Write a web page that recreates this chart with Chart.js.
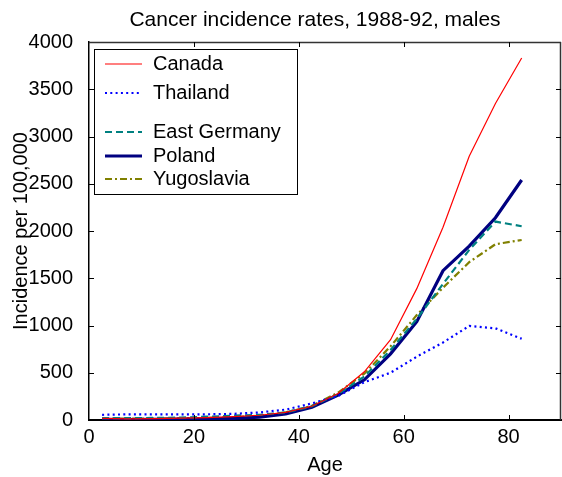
<!DOCTYPE html>
<html>
<head>
<meta charset="utf-8">
<script src="https://cdn.jsdelivr.net/npm/chart.js@4/dist/chart.umd.min.js"></script>
<style>
  html, body { margin: 0; padding: 0; background: #fff; }
  #wrap { width: 562px; height: 477px; }
</style>
</head>
<body>
<div id="wrap"><canvas id="c" width="562" height="477"></canvas></div>
<script>
// Five-year age groups (mid-points) and incidence per 100,000
const ages = [2.5, 7.5, 12.5, 17.5, 22.5, 27.5, 32.5, 37.5, 42.5, 47.5, 52.5, 57.5, 62.5, 67.5, 72.5, 77.5, 82.5];
const canada     = [18, 12, 15, 20, 25, 35, 50, 80, 145, 280, 510, 850, 1390, 2040, 2790, 3350, 3830];
const thailand   = [55, 60, 60, 60, 60, 65, 80, 110, 175, 255, 400, 500, 670, 820, 995, 970, 860];
const eastGermany= [20, 20, 22, 25, 35, 45, 55, 80, 145, 275, 460, 740, 1070, 1440, 1800, 2100, 2050];
const poland     = [8, 5, 8, 10, 12, 18, 30, 65, 135, 265, 425, 700, 1040, 1580, 1840, 2140, 2540];
const yugoslavia = [15, 14, 15, 18, 22, 30, 45, 80, 150, 290, 490, 780, 1110, 1400, 1670, 1860, 1905];

const seriesNames = ['Canada', 'Thailand', 'East Germany', 'Poland', 'Yugoslavia'];
const xTicks = [0, 20, 40, 60, 80];
const yTicks = [0, 500, 1000, 1500, 2000, 2500, 3000, 3500, 4000];
const chartTitle = 'Cancer incidence rates, 1988-92, males';

const FONT = 'Liberation Sans, Arial, Helvetica, sans-serif';

function pts(vals) { return ages.map((a, i) => ({ x: a, y: vals[i] })); }

// Title centred a little left of the plot centre, above the frame
const titlePlugin = {
  id: 'plotTitle',
  afterDraw(chart, args, opts) {
    const { ctx, chartArea: a } = chart;
    ctx.save();
    ctx.font = '21px ' + FONT;
    ctx.fillStyle = '#000';
    ctx.textAlign = 'center';
    ctx.textBaseline = 'middle';
    ctx.fillText(opts.text, (a.left + a.right) / 2 - 10, 20);
    ctx.restore();
  }
};

// Frame with inward tick marks on all four sides
const framePlugin = {
  id: 'frame',
  afterDraw(chart) {
    const { ctx, chartArea: a, scales: { x, y } } = chart;
    ctx.save();
    ctx.strokeStyle = '#333';
    ctx.lineWidth = 1.5;
    ctx.beginPath();
    ctx.moveTo(a.left, a.top + 0.5); ctx.lineTo(a.right, a.top + 0.5);
    ctx.moveTo(a.right - 0.5, a.top); ctx.lineTo(a.right - 0.5, a.bottom);
    ctx.stroke();
    ctx.strokeStyle = '#000';
    ctx.lineWidth = 1;
    const L = 5;
    ctx.beginPath();
    xTicks.forEach(v => {
      if (v === 0) return;
      const px = Math.round(x.getPixelForValue(v)) + 0.5;
      ctx.moveTo(px, a.bottom); ctx.lineTo(px, a.bottom - L);
      ctx.moveTo(px, a.top); ctx.lineTo(px, a.top + L);
    });
    yTicks.forEach(v => {
      if (v === 0 || v === 4000) return;
      const py = Math.round(y.getPixelForValue(v)) + 0.5;
      ctx.moveTo(a.left, py); ctx.lineTo(a.left + L, py);
      ctx.moveTo(a.right, py); ctx.lineTo(a.right - L, py);
    });
    ctx.stroke();
    ctx.restore();
  }
};

// Boxed legend in the upper-left corner of the plot
const boxLegend = {
  id: 'boxLegend',
  afterDraw(chart, args, opts) {
    const { ctx, chartArea: a } = chart;
    const bx = a.left + opts.dx, by = a.top + opts.dy;
    ctx.save();
    ctx.fillStyle = '#fff';
    ctx.fillRect(bx, by, opts.w, opts.h);
    ctx.strokeStyle = '#000';
    ctx.lineWidth = 1;
    ctx.strokeRect(bx + 0.5, by + 0.5, opts.w, opts.h);
    ctx.font = '20px ' + FONT;
    ctx.textBaseline = 'middle';
    ctx.fillStyle = '#000';
    chart.data.datasets.forEach((ds, i) => {
      const ry = by + opts.rows[i];
      ctx.save();
      ctx.strokeStyle = ds.borderColor;
      ctx.lineWidth = ds.borderWidth;
      ctx.setLineDash(ds.borderDash || []);
      ctx.beginPath();
      ctx.moveTo(bx + 11, ry); ctx.lineTo(bx + 48, ry);
      ctx.stroke();
      ctx.restore();
      ctx.fillText(ds.label, bx + 59, ry);
    });
    ctx.restore();
  }
};

new Chart(document.getElementById('c'), {
  type: 'line',
  data: {
    datasets: [
      { label: seriesNames[0], data: pts(canada), borderColor: '#ff0000', borderWidth: 1.2 },
      { label: seriesNames[1], data: pts(thailand), borderColor: '#0000ff', borderWidth: 2.2, borderDash: [2, 3.3] },
      { label: seriesNames[2], data: pts(eastGermany), borderColor: '#008080', borderWidth: 2.2, borderDash: [7, 4] },
      { label: seriesNames[3], data: pts(poland), borderColor: '#000080', borderWidth: 3.2 },
      { label: seriesNames[4], data: pts(yugoslavia), borderColor: '#808000', borderWidth: 2.2, borderDash: [7, 3, 2, 3] }
    ]
  },
  options: {
    responsive: false,
    animation: false,
    devicePixelRatio: 1,
    layout: { padding: { left: 0, right: 1, top: 42, bottom: 0 } },
    elements: { point: { radius: 0 }, line: { tension: 0, fill: false } },
    plugins: {
      legend: { display: false },
      tooltip: { enabled: false },
      title: { display: false },
      plotTitle: { text: chartTitle },
      boxLegend: { dx: 5, dy: 7, w: 203, h: 145, rows: [15, 44, 83, 107, 130] }
    },
    scales: {
      x: {
        type: 'linear', min: 0, max: 90,
        afterBuildTicks: s => { s.ticks = xTicks.map(v => ({ value: v })); },
        afterFit: s => { s.height = 57; },
        grid: { display: false },
        border: { display: true, color: '#000', width: 2 },
        ticks: { color: '#000', font: { family: FONT, size: 20 }, padding: -3, maxRotation: 0, callback: v => String(v) },
        title: { display: true, text: 'Age', color: '#000', font: { family: FONT, size: 20 }, padding: { top: 0, bottom: 0 } }
      },
      y: {
        type: 'linear', min: 0, max: 4000,
        afterBuildTicks: s => { s.ticks = yTicks.map(v => ({ value: v })); },
        afterFit: s => { s.width = 89; },
        grid: { display: false },
        border: { display: true, color: '#000', width: 1.5 },
        ticks: { color: '#000', font: { family: FONT, size: 20 }, padding: 8, callback: v => String(v) },
        title: { display: true, text: 'Incidence per 100,000', color: '#000', font: { family: FONT, size: 20 }, padding: { top: 9, bottom: 0 } }
      }
    }
  },
  plugins: [framePlugin, boxLegend, titlePlugin]
});
</script>
</body>
</html>
